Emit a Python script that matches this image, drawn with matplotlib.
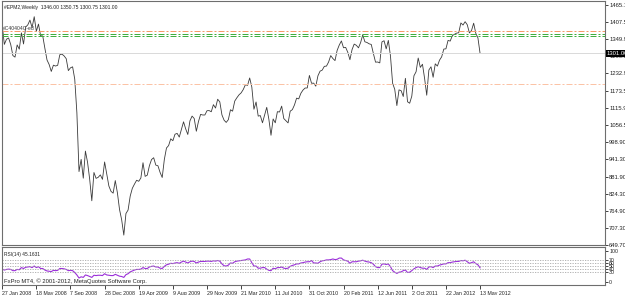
import numpy as np
import matplotlib.pyplot as plt
from matplotlib import transforms

# weekly closes, week of 27 Jan 2008 .. week of 13 May 2012
close_2008 = [1395.4, 1331.3, 1349.0, 1353.1, 1330.6, 1293.4, 1288.1, 1329.5, 1315.2, 1370.4,
              1332.8, 1390.3, 1397.8, 1413.9, 1388.3, 1425.4, 1375.9, 1400.4, 1360.7, 1360.0,
              1317.9, 1278.4, 1262.9, 1239.5, 1260.7, 1257.8, 1260.3, 1296.3, 1298.2, 1292.2,
              1282.8, 1242.3, 1251.7, 1255.1, 1213.3, 1099.2, 899.2, 940.6, 876.8, 968.8,
              931.0, 873.3, 800.0, 896.2, 876.1, 879.7, 887.9, 872.8]
close_2009 = [931.8, 890.4, 850.1, 832.0, 825.9, 868.6, 826.8, 770.1, 735.1, 683.4,
              756.6, 768.5, 815.9, 842.5, 856.6, 869.6, 866.2, 877.5, 929.2, 882.9,
              887.0, 919.1, 940.1, 946.2, 921.2, 918.9, 896.4, 879.1, 940.4, 979.3,
              987.5, 1010.5, 1004.1, 1026.1, 1028.9, 1016.4, 1042.7, 1068.3, 1044.4, 1025.2,
              1071.5, 1087.7, 1079.6, 1036.2, 1069.3, 1093.5, 1091.4, 1091.5, 1106.0, 1106.4,
              1102.5, 1126.5, 1115.1]
close_2010 = [1145.0, 1136.0, 1091.8, 1073.9, 1066.2, 1075.5, 1109.2, 1104.5, 1138.7, 1150.0,
              1159.9, 1166.6, 1178.1, 1194.4, 1192.1, 1217.3, 1186.7, 1110.9, 1135.7, 1087.7,
              1089.4, 1064.9, 1091.6, 1117.5, 1076.8, 1022.6, 1078.0, 1064.9, 1102.7, 1101.6,
              1121.6, 1079.3, 1071.7, 1064.6, 1104.5, 1109.6, 1125.6, 1148.7, 1146.2, 1165.2,
              1176.2, 1183.1, 1183.3, 1225.9, 1199.2, 1199.7, 1189.4, 1224.7, 1240.4, 1243.9,
              1256.8, 1257.6]
close_2011 = [1271.5, 1293.2, 1283.4, 1276.3, 1310.9, 1329.2, 1343.0, 1319.9, 1321.2, 1304.3,
              1279.2, 1313.8, 1332.4, 1328.2, 1319.7, 1337.4, 1363.6, 1340.2, 1337.8, 1333.3,
              1331.1, 1300.2, 1271.0, 1271.5, 1268.5, 1339.7, 1343.8, 1316.1, 1345.0, 1292.3,
              1199.4, 1178.8, 1123.5, 1176.8, 1174.0, 1154.2, 1216.0, 1136.4, 1131.4, 1155.5,
              1224.6, 1238.3, 1285.1, 1253.2, 1263.9, 1215.7, 1158.7, 1244.3, 1255.2, 1219.7,
              1265.3, 1257.6]
close_2012 = [1277.8, 1289.1, 1315.4, 1316.3, 1344.9, 1342.6, 1361.2, 1365.7, 1369.6, 1370.9,
              1404.2, 1397.1, 1408.5, 1398.1, 1370.3, 1378.5, 1403.4, 1369.1, 1353.4, 1301.0]
close = close_2008 + close_2009 + close_2010 + close_2011 + close_2012

# RSI(14) line
rsi = [41, 38, 40, 41, 40, 36, 36, 40, 39, 46, 43, 47, 48, 49, 46, 51, 46, 49, 43, 43,
       38, 35, 34, 33, 37, 36, 37, 43, 43, 42, 40, 36, 37, 36, 30, 22, 12, 16, 14, 22,
       20, 17, 14, 21, 20, 21, 21, 20,
       26, 22, 21, 20, 20, 24, 21, 18, 17, 14, 23, 26, 32, 35, 38, 40, 40, 41, 46, 43,
       43, 48, 50, 51, 48, 48, 44, 43, 50, 55, 57, 60, 59, 61, 62, 60, 64, 67, 64, 61,
       65, 67, 66, 61, 64, 66, 66, 66, 67, 67, 66, 68, 67,
       69, 67, 58, 52, 51, 54, 61, 60, 65, 67, 68, 69, 70, 71, 74, 74, 62, 51, 51, 44,
       44, 46, 46, 41, 37, 36, 44, 42, 46, 46, 48, 44, 43, 44, 50, 53, 55, 58, 58, 61,
       62, 64, 65, 65, 69, 61, 61, 60, 65, 68, 69, 71,
       71, 72, 74, 72, 73, 77, 77, 71, 69, 67, 60, 65, 65, 65, 67, 68,
       70, 67, 65, 64, 62, 57, 49, 46, 46, 57, 58, 56, 58, 49, 36, 31, 27, 31, 32, 36,
       38, 30, 31, 36, 42, 46, 49, 46, 44, 44, 40, 48, 49, 46, 51, 51,
       54, 56, 58, 58, 62, 62, 64, 65, 66, 66, 69, 68, 70, 65, 60, 62, 65, 59, 55, 45.1631]

date_labels = ["27 Jan 2008", "18 May 2008", "7 Sep 2008", "28 Dec 2008", "19 Apr 2009",
               "9 Aug 2009", "29 Nov 2009", "21 Mar 2010", "11 Jul 2010", "31 Oct 2010",
               "20 Feb 2011", "12 Jun 2011", "2 Oct 2011", "22 Jan 2012", "13 May 2012"]
price_ticks = [1465.10, 1407.50, 1349.90, 1290.50, 1232.90, 1173.50, 1115.90, 1056.50,
               998.90, 941.30, 881.90, 824.30, 764.90, 707.30, 649.70]
rsi_levels = [70, 60, 50, 40, 30]
orange_levels = [1377.0, 1197.0]
green_levels = [1368.0, 1361.0]
last_price = 1301.00

plt.rcParams['font.family'] = ['Liberation Sans', 'DejaVu Sans']

W, H = 625, 295
fig = plt.figure(figsize=(W / 100, H / 100), dpi=100)
fig.patch.set_facecolor('white')


def box(l, t, r, b):
    return [l / W, 1 - b / H, (r - l) / W, (b - t) / H]


ax = fig.add_axes(box(2, 1, 605, 245))
ax2 = fig.add_axes(box(2, 247, 605, 285))

x = np.arange(len(close))
xmax = (605 - 2) / 2.134

# main window
ax.plot(x, close, color='#3a3a3a', lw=0.6)
ax.axhline(last_price, color='#d9d9d9', lw=0.7)
dash = (0, (6, 2, 2, 2))
ax.axhline(orange_levels[0], color='#f79a6a', lw=0.72, ls=dash)
ax.axhline(orange_levels[1], color='#fbc3a6', lw=0.72, ls=dash)
for lv in green_levels:
    ax.axhline(lv, color='#3fae3f', lw=0.72, ls=dash)
ax.set_xlim(-0.1, xmax)
ax.set_ylim(649.7, 649.7 + 244 / 0.2943)
ax.set_xticks([])
ax.yaxis.tick_right()
ax.set_yticks(price_ticks)
ax.set_yticklabels(['%.2f' % v for v in price_ticks])
ax.tick_params(axis='y', length=2, width=0.6, pad=1, labelsize=4.2, colors='#222222')

tr = transforms.blended_transform_factory(ax.transAxes, ax.transData)
ax.text(1.003, last_price, '%.2f' % last_price, transform=tr, ha='left', va='center',
        fontsize=4.2, color='white',
        bbox=dict(facecolor='black', edgecolor='none', pad=0.8))
ax.text(0.003, 0.985, '#EPM2,Weekly  1346.00 1350.75 1300.75 1301.00',
        transform=ax.transAxes, ha='left', va='top', fontsize=3.6, color='#222222')
ax.text(0.002, 1377, '#C40404C-ed', transform=tr, ha='left', va='bottom',
        fontsize=3.6, color='#333333')

# RSI window
ax2.plot(x, rsi, color='#9b30d9', lw=0.8)
for lv in rsi_levels:
    ax2.axhline(lv, color='#a8a8a8', lw=0.6, ls=(0, (1.5, 1.5)))
ax2.set_xlim(-0.1, xmax)
ax2.set_ylim(-10.7, 113)
ax2.yaxis.tick_right()
ax2.set_yticks([100] + rsi_levels + [0])
ax2.set_yticklabels([str(v) for v in [100] + rsi_levels + [0]])
ax2.tick_params(axis='y', length=2, width=0.6, pad=1, labelsize=3.8, colors='#222222')
ax2.set_xticks(np.arange(0, len(close), 16))
ax2.set_xticklabels(date_labels)
for lbl in ax2.get_xticklabels():
    lbl.set_horizontalalignment('left')
ax2.tick_params(axis='x', length=3, width=0.6, pad=1, labelsize=3.8, colors='#222222')
ax2.text(0.004, 0.88, 'RSI(14) 45.1631', transform=ax2.transAxes, ha='left', va='top',
         fontsize=3.5, color='#222222')
ax2.text(0.003, 0.03, 'FxPro MT4, \u00a9 2001-2012, MetaQuotes Software Corp.',
         transform=ax2.transAxes, ha='left', va='bottom', fontsize=4.2, color='#222222')

for a in (ax, ax2):
    for s in a.spines.values():
        s.set_color('#6e6e6e')
        s.set_linewidth(0.8)

fig.savefig('out.png', dpi=100, facecolor='white')
